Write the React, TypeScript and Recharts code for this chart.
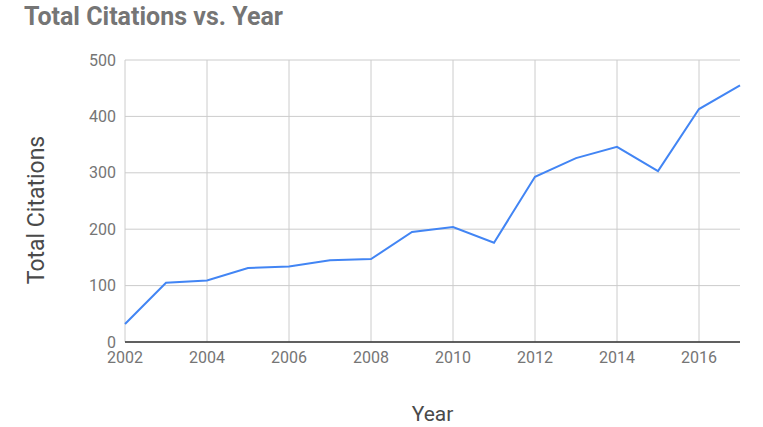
import { LineChart, Line, XAxis, YAxis, CartesianGrid } from "recharts";

// Total citations per year
const years = [2002, 2003, 2004, 2005, 2006, 2007, 2008, 2009, 2010, 2011, 2012, 2013, 2014, 2015, 2016, 2017];
const citations = [32, 105, 109, 131, 134, 145, 147, 195, 204, 176, 293, 326, 346, 303, 413, 455];
const xTicks = [2002, 2004, 2006, 2008, 2010, 2012, 2014, 2016];
const yTicks = [0, 100, 200, 300, 400, 500];

const data = years.map((year, i) => ({ year, citations: citations[i] }));

const FONT = "Roboto, 'Noto Sans', sans-serif";

function YLabel(props: any) {
  const vb = props.viewBox || {};
  const cx = 36;
  const cy = (vb.y ?? 60) + (vb.height ?? 282) / 2 + 9;
  return (
    <text
      x={cx}
      y={cy}
      transform={`rotate(-90, ${cx}, ${cy})`}
      textAnchor="middle"
      dominantBaseline="central"
      fontFamily={FONT}
      fontSize={23}
      fill="#4a4a4a"
    >
      Total Citations
    </text>
  );
}

export default function App() {
  return (
    <div style={{ position: "absolute", left: 0, top: 0, width: 763, height: 427, background: "#fff" }}>
      <div
        style={{
          position: "absolute",
          left: 24,
          top: 2,
          fontFamily: FONT,
          fontWeight: 700,
          fontSize: 25,
          color: "#757575",
        }}
      >
        Total Citations vs. Year
      </div>
      <LineChart
        width={763}
        height={427}
        data={data}
        margin={{ top: 60, right: 23, bottom: 0, left: 0 }}
      >
        <CartesianGrid stroke="#ccc" strokeWidth={1} horizontalValues={yTicks} verticalValues={xTicks} />
        <XAxis
          dataKey="year"
          type="number"
          domain={[2002, 2017]}
          ticks={xTicks}
          height={85}
          axisLine={{ stroke: "#333", strokeWidth: 1.5 }}
          tickLine={false}
          tickSize={0}
          tickMargin={10}
          tick={{ fill: "#757575", fontSize: 16, fontFamily: FONT }}
          label={{
            value: "Year",
            position: "insideBottom",
            offset: 6,
            fill: "#4a4a4a",
            fontSize: 21,
            fontFamily: FONT,
          }}
        />
        <YAxis
          type="number"
          domain={[0, 500]}
          ticks={yTicks}
          width={125}
          axisLine={false}
          tickLine={false}
          tickSize={0}
          tickMargin={9}
          tick={{ fill: "#757575", fontSize: 16, fontFamily: FONT }}
          label={<YLabel />}
        />
        <Line
          type="linear"
          dataKey="citations"
          stroke="#4285f4"
          strokeWidth={2}
          dot={false}
          isAnimationActive={false}
        />
      </LineChart>
    </div>
  );
}
